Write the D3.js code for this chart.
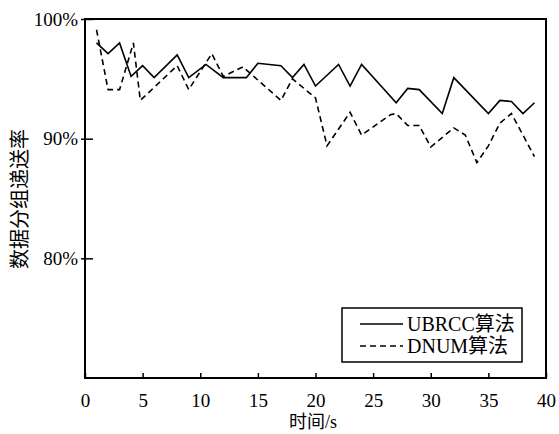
<!DOCTYPE html>
<meta charset="utf-8">
<style>
body { margin: 0; background: #fff; }
text { font-family: 'Liberation Serif', 'Times New Roman', 'Noto Sans CJK SC', serif; fill: #000; }
</style>
<script src="https://cdn.jsdelivr.net/npm/d3@7"></script>
<div id="chart"></div>
<script>
// values (time in s, delivery rate in %)
var ubrccT = [1, 2, 3, 4, 5, 6, 8, 9, 10.5, 12, 14, 15, 17, 18, 19, 20, 22, 23, 24, 27, 28, 29, 31, 32, 35, 36, 37, 38, 39];
var ubrccV = [98.0, 97.1, 98.0, 95.2, 96.1, 95.1, 97.0, 95.1, 96.2, 95.1, 95.1, 96.3, 96.1, 95.1, 96.2, 94.4, 96.2, 94.4, 96.2, 93.0, 94.2, 94.1, 92.1, 95.1, 92.1, 93.2, 93.1, 92.1, 93.0];
var dnumT = [1, 2, 3, 4.2, 4.8, 8, 9, 11, 12, 13.7, 17, 18, 20, 21, 23, 24, 26.5, 27, 28, 29, 30, 32, 33, 34, 35, 36, 37, 39];
var dnumV = [99.1, 94.1, 94.1, 98.0, 93.2, 96.1, 94.1, 97.1, 95.2, 96.0, 93.2, 95.0, 93.4, 89.4, 92.2, 90.3, 92.0, 92.1, 91.1, 91.1, 89.3, 90.9, 90.3, 88.0, 89.4, 91.3, 92.1, 88.5];
var xTicks = [0, 5, 10, 15, 20, 25, 30, 35, 40];
var yTicks = [80, 90, 100];
var seriesNames = ["UBRCC算法", "DNUM算法"];

var W = 559, H = 434;
var margin = {top: 19, right: 13, bottom: 56, left: 85},
    width = W - margin.left - margin.right,
    height = H - margin.top - margin.bottom;

var svg = d3.select("#chart").append("svg")
    .attr("width", W).attr("height", H);
var g = svg.append("g")
    .attr("transform", "translate(" + margin.left + "," + margin.top + ")");

var x = d3.scaleLinear().domain([0, 40]).range([0, width]);
var y = d3.scaleLinear().domain([70, 100]).range([height, 0]);

// x axis, ticks pointing inward
var xAxis = g.append("g")
    .attr("transform", "translate(0," + height + ")")
    .call(d3.axisBottom(x).tickValues(xTicks).tickSizeInner(-5).tickSizeOuter(0).tickPadding(16));
xAxis.select(".domain").remove();
xAxis.selectAll("line").attr("stroke", "#000").attr("stroke-width", 1.5);
xAxis.selectAll("text").style("font-size", "19px").attr("font-family", null);

var yAxis = g.append("g")
    .call(d3.axisLeft(y).tickValues(yTicks).tickSizeInner(4).tickSizeOuter(0).tickPadding(3)
        .tickFormat(function (d) { return d + "%"; }));
yAxis.select(".domain").remove();
yAxis.selectAll("line").attr("x2", 8).attr("x1", -4).attr("stroke", "#000").attr("stroke-width", 1.5);
yAxis.selectAll("text").style("font-size", "19px").attr("font-family", null);

// frame
g.append("rect")
    .attr("width", width).attr("height", height)
    .attr("fill", "none").attr("stroke", "#000").attr("stroke-width", 2);

var line = d3.line()
    .x(function (d) { return x(d[0]); })
    .y(function (d) { return y(d[1]); });

g.append("path")
    .datum(d3.zip(ubrccT, ubrccV))
    .attr("d", line)
    .attr("fill", "none").attr("stroke", "#000").attr("stroke-width", 1.6);

g.append("path")
    .datum(d3.zip(dnumT, dnumV))
    .attr("d", line)
    .attr("fill", "none").attr("stroke", "#000").attr("stroke-width", 1.6)
    .style("stroke-dasharray", "6,4");

// axis titles
svg.append("text")
    .attr("x", 313).attr("y", 428)
    .attr("text-anchor", "middle")
    .style("font-size", "18px")
    .text("时间/s");

svg.append("text")
    .attr("transform", "translate(27,199)rotate(-90)")
    .attr("text-anchor", "middle")
    .style("font-size", "20px")
    .text("数据分组递送率");

// legend
var legend = svg.append("g").attr("transform", "translate(342,308)");
legend.append("rect")
    .attr("width", 180).attr("height", 54)
    .attr("fill", "#fff").attr("stroke", "#000").attr("stroke-width", 1.5);
seriesNames.forEach(function (name, i) {
    var ly = 16 + i * 22;
    legend.append("line")
        .attr("x1", 18).attr("x2", 61).attr("y1", ly).attr("y2", ly)
        .attr("stroke", "#000").attr("stroke-width", 1.6)
        .style("stroke-dasharray", i === 1 ? "6,4" : null);
    legend.append("text")
        .attr("x", 65).attr("y", ly + 7)
        .style("font-size", "20px")
        .text(name);
});
</script>
